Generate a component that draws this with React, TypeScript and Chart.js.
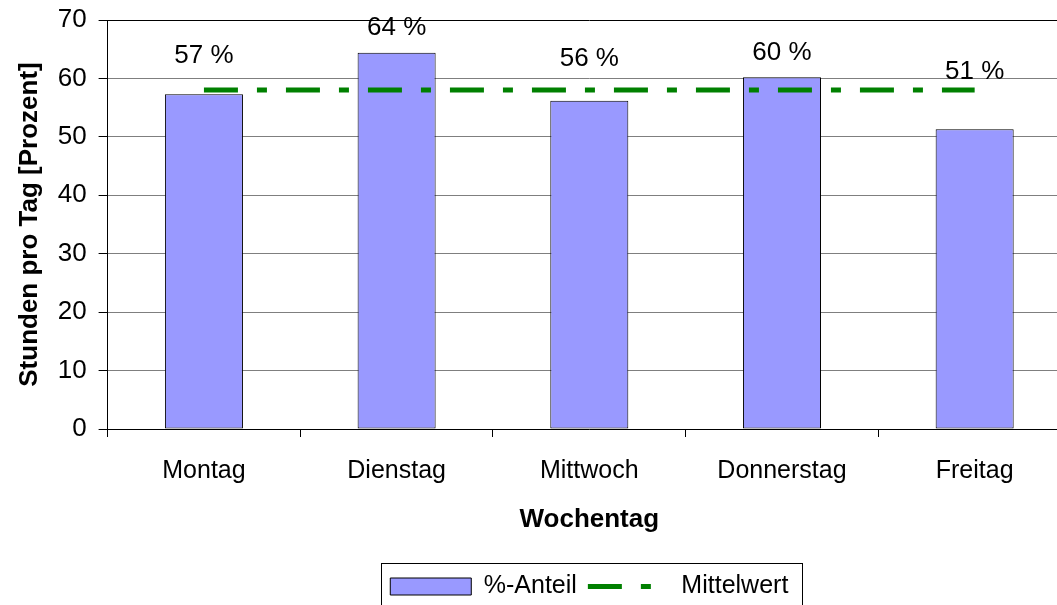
import React, { useEffect, useRef } from 'react';
import { Chart, registerables } from 'chart.js';

Chart.register(...registerables);

// ---- data ----
const categories: string[] = ['Montag', 'Dienstag', 'Mittwoch', 'Donnerstag', 'Freitag'];
const anteilValues: number[] = [57.3, 64.4, 56.2, 60.2, 51.3];
const anteilLabels: string[] = ['57 %', '64 %', '56 %', '60 %', '51 %'];
const mittelwertValues: number[] = [58, 58, 58, 58, 58];
const yMin = 0;
const yMax = 70;
const yStep = 10;

const FONT = '"Liberation Sans", Arial, Helvetica, sans-serif';
const BAR_COLOR = '#9999FF';
const LINE_COLOR = '#008000';

const valueLabelPlugin = {
  id: 'valueLabels',
  afterDatasetsDraw(chart: any, _args: any, opts: any) {
    const meta = chart.getDatasetMeta(0);
    const ctx = chart.ctx;
    const lifts: number[] = opts.lift || [];
    ctx.save();
    ctx.font = `${opts.size}px ${FONT}`;
    ctx.fillStyle = '#000';
    ctx.textAlign = 'center';
    ctx.textBaseline = 'middle';
    meta.data.forEach((bar: any, i: number) => {
      ctx.fillText(anteilLabels[i], bar.x, bar.y - (lifts[i] ?? 30));
    });
    ctx.restore();
  },
};

const legendBorderPlugin = {
  id: 'legendBorder',
  afterDraw(chart: any) {
    const lg = chart.legend;
    if (!lg || !lg.legendHitBoxes || !lg.legendHitBoxes.length) return;
    const hb = lg.legendHitBoxes;
    const left = hb[0].left - 9;
    const last = hb[hb.length - 1];
    const right = last.left + last.width + 14;
    const ctx = chart.ctx;
    ctx.save();
    ctx.strokeStyle = '#000';
    ctx.lineWidth = 1;
    ctx.setLineDash([]);
    ctx.strokeRect(Math.round(left) + 0.5, Math.round(lg.top) + 0.5, Math.round(right - left), 200);
    ctx.restore();
  },
};

export default function App() {
  const canvasRef = useRef<HTMLCanvasElement | null>(null);

  useEffect(() => {
    if (!canvasRef.current) return;
    const chart = new Chart(canvasRef.current, {
      type: 'bar',
      data: {
        labels: categories,
        datasets: [
          {
            type: 'bar',
            label: '%-Anteil',
            data: anteilValues,
            backgroundColor: BAR_COLOR,
            borderColor: '#000',
            borderWidth: 1,
            borderSkipped: false,
            barPercentage: 0.405,
            categoryPercentage: 1,
            order: 2,
          } as any,
          {
            type: 'line',
            label: 'Mittelwert',
            data: mittelwertValues,
            borderColor: LINE_COLOR,
            backgroundColor: LINE_COLOR,
            borderWidth: 5,
            borderDash: [34, 19, 10, 19],
            borderCapStyle: 'butt',
            pointRadius: 0,
            pointHoverRadius: 0,
            fill: false,
            tension: 0,
            order: 1,
          } as any,
        ],
      },
      options: {
        responsive: false,
        animation: false,
        devicePixelRatio: 1,
        events: [],
        layout: { padding: { top: 20, right: 1, bottom: 0, left: 0 } },
        scales: {
          x: {
            type: 'category',
            offset: true,
            grid: {
              offset: true,
              drawOnChartArea: false,
              drawTicks: true,
              tickLength: 8,
              color: '#000',
              tickColor: '#000',
            },
            border: { display: true, color: '#000', width: 1 },
            ticks: {
              font: { family: FONT, size: 25 },
              color: '#000',
              padding: 19,
              maxRotation: 0,
              autoSkip: false,
            },
            title: {
              display: true,
              text: 'Wochentag',
              color: '#000',
              font: { family: FONT, size: 26, weight: 'bold' },
              padding: { top: 0, bottom: 28 },
            },
            afterFit: (s: any) => {
              s.height = 134;
              s.paddingLeft = 0;
              s.paddingRight = 0;
            },
          },
          y: {
            min: yMin,
            max: yMax,
            grid: {
              drawTicks: true,
              tickLength: 9,
              color: (c: any) => (c.tick && c.tick.value === yMax ? '#000' : '#7f7f7f'),
              tickColor: '#000',
            },
            border: { display: true, color: '#000', width: 1 },
            ticks: {
              stepSize: yStep,
              font: { family: FONT, size: 26 },
              color: '#000',
              padding: 12,
            },
            title: {
              display: true,
              text: 'Stunden pro Tag [Prozent]',
              color: '#000',
              font: { family: FONT, size: 26, weight: 'bold' },
              padding: { top: 14, bottom: 0 },
            },
            afterFit: (s: any) => {
              s.width = 107.6;
              s.paddingTop = 0;
              s.paddingBottom = 0;
            },
          },
        },
        plugins: {
          tooltip: { enabled: false },
          title: { display: false },
          legend: {
            display: true,
            position: 'bottom',
            fullSize: false,
            labels: {
              usePointStyle: true,
              pointStyleWidth: 81,
              boxHeight: 17,
              padding: 11,
              color: '#000',
              font: { family: FONT, size: 25 },
              generateLabels: (ch: any) => {
                const items = (Chart as any).defaults.plugins.legend.labels.generateLabels(ch);
                items.sort((a: any, b: any) => a.datasetIndex - b.datasetIndex);
                items.forEach((it: any) => {
                  if (it.datasetIndex === 0) {
                    it.pointStyle = 'rect';
                    it.fillStyle = BAR_COLOR;
                    it.strokeStyle = '#000';
                    it.lineWidth = 1;
                    it.lineDash = [];
                  } else {
                    it.pointStyle = 'line';
                    it.fillStyle = LINE_COLOR;
                    it.strokeStyle = LINE_COLOR;
                    it.lineWidth = 5;
                    it.lineDash = [34, 19, 10, 19];
                    it.lineDashOffset = 0;
                  }
                });
                return items;
              },
            },
          },
          valueLabels: { size: 26, lift: [38, 25, 42, 24.5, 57] },
        } as any,
      },
      plugins: [valueLabelPlugin, legendBorderPlugin],
    } as any);
    return () => chart.destroy();
  }, []);

  return (
    <div
      style={{
        position: 'fixed',
        left: 0,
        top: 0,
        width: 1057,
        height: 605,
        overflow: 'hidden',
        background: '#fff',
      }}
    >
      <canvas ref={canvasRef} width={1072} height={609} style={{ display: 'block', width: 1072, height: 609 }} />
    </div>
  );
}
